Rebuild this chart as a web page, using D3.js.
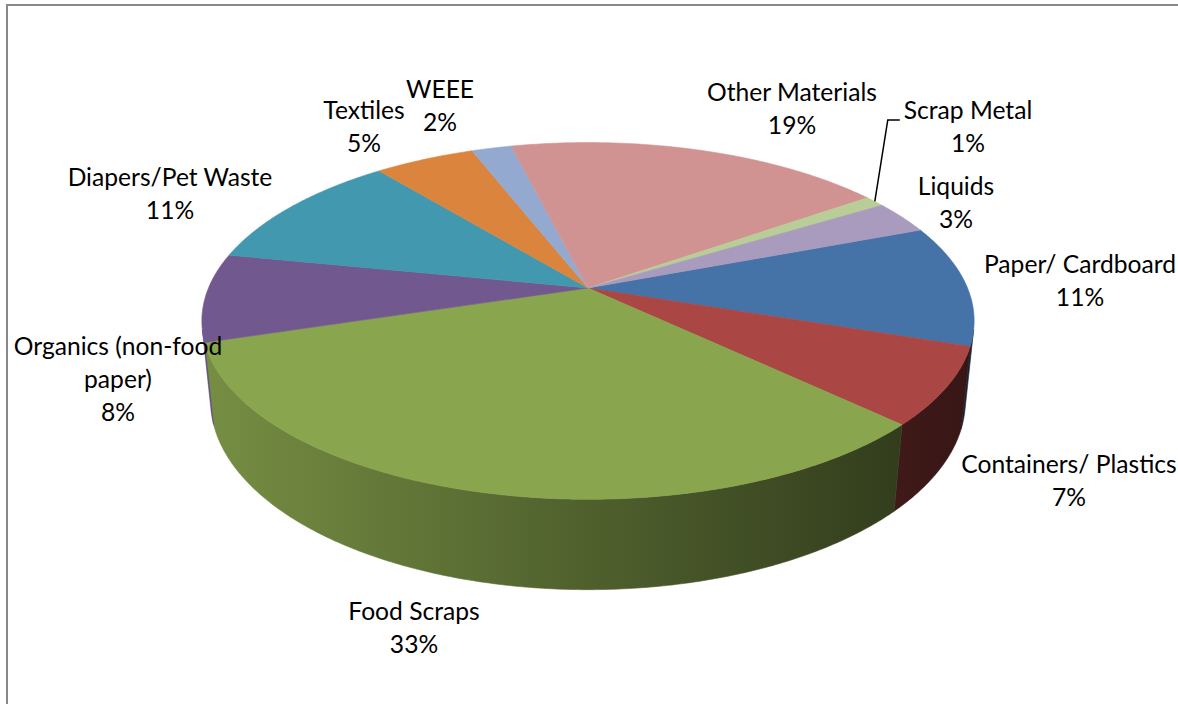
<!DOCTYPE html>
<html>
<head>
<meta charset="utf-8">
<script src="https://cdn.jsdelivr.net/npm/d3@7"></script>
<style>
  html, body { margin: 0; padding: 0; background: #fff; }
  svg { display: block; }
</style>
</head>
<body>
<svg id="chart" width="1178" height="704"></svg>
<script>
// ---- data ----
const categories = ["Paper/ Cardboard", "Containers/ Plastics", "Food Scraps", "Organics (non-food paper)",
  "Diapers/Pet Waste", "Textiles", "WEEE", "Other Materials", "Scrap Metal", "Liquids"];
const values = [11, 7, 33, 8, 11, 5, 2, 19, 1, 3];
const percentLabels = ["11%", "7%", "33%", "8%", "11%", "5%", "2%", "19%", "1%", "3%"];
const nameLines = [["Paper/ Cardboard"], ["Containers/ Plastics"], ["Food Scraps"], ["Organics (non-food", "paper)"],
  ["Diapers/Pet Waste"], ["Textiles"], ["WEEE"], ["Other Materials"], ["Scrap Metal"], ["Liquids"]];

// ---- styles / layout ----
const colors = ["#4572A7", "#AA4643", "#89A54E", "#71588F", "#4198AF", "#DB843D", "#93A9CF", "#D19392", "#B9CD96", "#A99BBD"];
const labelAnchor = [[1080, 273], [1069, 473], [414, 620], [118, 355], [170, 186], [364, 119], [440, 98], [792, 101], [968, 119], [956, 195]];
const leaderFor = 8; // Scrap Metal has a leader line
const lineGap = 33;

const svg = d3.select("#chart");
const W = 1178, Hh = 704;

// frame
svg.append("path").attr("d", `M7,${Hh} V5 H${W}`).attr("fill", "none").attr("stroke", "#898989").attr("stroke-width", 2);

// perspective projection of a disk of radius 1
const tilt = 27 * Math.PI / 180, sT = Math.sin(tilt), cT = Math.cos(tilt);
const Dcam = 4.83, Fcam = 1833, CX = 588, CY = 288, thick = 0.238;
const rScale = d3.scaleLinear().domain([0, 1]).range([0, 1]);
function proj(phi, r, yw) {
  const rr = rScale(r);
  const X = rr * Math.sin(phi), Z = -rr * Math.cos(phi), Y = yw;
  const v = -Y * cT + Z * sT;
  const d = Dcam - (Z * cT + Y * sT);
  return [CX + Fcam * X / d, CY + Fcam * v / d];
}

const startA = 69 * Math.PI / 180;
const pie = d3.pie().sort(null).value(d => d).startAngle(startA).endAngle(startA + 2 * Math.PI);
const arcs = pie(values);
const line = d3.line();

function arcPts(a0, a1, yw) {
  const n = Math.max(2, Math.ceil((a1 - a0) / 0.01));
  const pts = [];
  for (let i = 0; i <= n; i++) pts.push(proj(a0 + (a1 - a0) * i / n, 1, yw));
  return pts;
}

// gradients for side walls
const defs = svg.append("defs");
colors.forEach((col, i) => {
  const g = defs.append("linearGradient").attr("id", "side" + i).attr("gradientUnits", "userSpaceOnUse")
    .attr("x1", 205).attr("x2", 973).attr("y1", 0).attr("y2", 0);
  const base = d3.rgb(col);
  const stops = [[0, 0.86], [0.5, 0.58], [1, 0.32]];
  stops.forEach(([o, f]) => {
    g.append("stop").attr("offset", o).attr("stop-color", d3.rgb(base.r * f, base.g * f, base.b * f).formatHex());
  });
});

// side walls (front-facing part only)
const kVis = 1 / (Dcam * cT);
const visLo = Math.acos(-kVis), visHi = 2 * Math.PI - Math.acos(-kVis);
const sideG = svg.append("g");
arcs.forEach((a, i) => {
  const a0 = Math.max(a.startAngle, visLo), a1 = Math.min(a.endAngle, visHi);
  if (a1 <= a0) return;
  const top = arcPts(a0, a1, 0);
  const bot = arcPts(a0, a1, -thick).reverse();
  sideG.append("path").attr("d", line(top.concat(bot)) + "Z")
    .attr("fill", `url(#side${i})`).attr("stroke", `url(#side${i})`).attr("stroke-width", 0.6);
});

// top faces
const topG = svg.append("g");
arcs.forEach((a, i) => {
  const pts = [proj(0, 0, 0)].concat(arcPts(a.startAngle, a.endAngle, 0));
  topG.append("path").attr("d", line(pts) + "Z")
    .attr("fill", colors[i]).attr("stroke", colors[i]).attr("stroke-width", 0.6).attr("stroke-linejoin", "round");
});

// font size matched to reference label width
const fontFam = "Lato, 'Open Sans', 'DejaVu Sans', sans-serif";
const probe = svg.append("text").attr("font-family", fontFam).attr("font-size", 100).text("Other Materials");
const wProbe = probe.node().getComputedTextLength();
probe.remove();
const fontSize = Math.max(18, Math.min(28, 100 * 170 / wProbe));

// labels
const labG = svg.append("g").attr("font-family", fontFam).attr("font-size", fontSize).attr("fill", "#000").attr("text-anchor", "middle");
arcs.forEach((a, i) => {
  const [lx, ly] = labelAnchor[i];
  const lines = nameLines[i].concat([percentLabels[i]]);
  const t = labG.append("text");
  lines.forEach((ln, j) => {
    t.append("tspan").attr("x", lx).attr("y", ly + j * lineGap).text(ln);
  });
  if (i === leaderFor) {
    const mid = (a.startAngle + a.endAngle) / 2;
    const p0 = proj(mid, 1, 0);
    const tw = t.select("tspan").node().getComputedTextLength();
    const xEnd = lx - tw / 2 - 4;
    svg.append("polyline")
      .attr("points", [p0, [xEnd - 12, ly + 1], [xEnd, ly + 1]].map(p => p.join(",")).join(" "))
      .attr("fill", "none").attr("stroke", "#000").attr("stroke-width", 1.5);
  }
});
</script>
</body>
</html>
